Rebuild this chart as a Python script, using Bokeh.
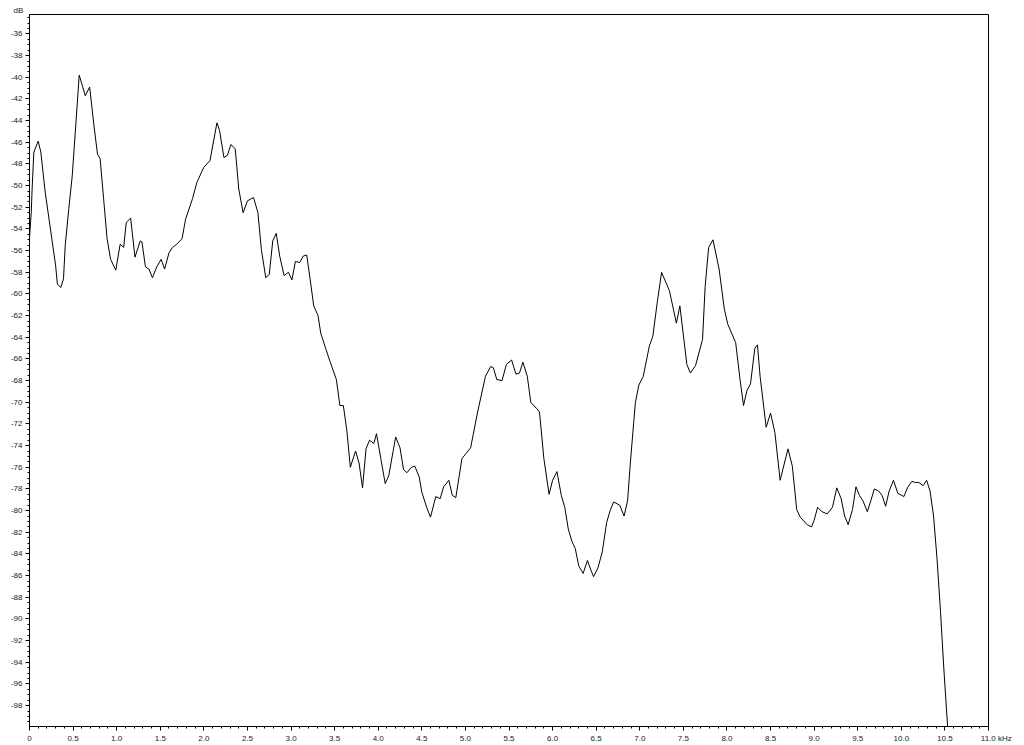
from bokeh.plotting import figure
from bokeh.models import FixedTicker, CustomJSTickFormatter, Range1d
from bokeh.embed import file_html
from bokeh.resources import INLINE

freq_khz = [
    0.00, 0.02, 0.03, 0.05, 0.10, 0.13, 0.18, 0.24, 0.30, 0.32, 0.36, 0.39, 0.41, 0.45, 0.49,
    0.53, 0.57, 0.60, 0.64, 0.69, 0.74, 0.78, 0.81, 0.85, 0.89, 0.93, 0.99, 1.04, 1.08, 1.11,
    1.16, 1.21, 1.27, 1.29, 1.33, 1.37, 1.41, 1.46, 1.51, 1.55, 1.60, 1.64, 1.69, 1.75, 1.79,
    1.87, 1.92, 2.00, 2.07, 2.15, 2.18, 2.23, 2.27, 2.31, 2.36, 2.40, 2.45, 2.50, 2.57, 2.62,
    2.66, 2.71, 2.75, 2.79, 2.83, 2.87, 2.92, 2.97, 3.01, 3.05, 3.10, 3.14, 3.18, 3.22, 3.26,
    3.31, 3.34, 3.40, 3.45, 3.52, 3.56, 3.60, 3.64, 3.68, 3.74, 3.78, 3.82, 3.86, 3.90, 3.95,
    3.98, 4.03, 4.08, 4.12, 4.20, 4.25, 4.29, 4.33, 4.38, 4.42, 4.47, 4.50, 4.56, 4.60, 4.66,
    4.71, 4.75, 4.81, 4.85, 4.89, 4.96, 5.06, 5.14, 5.23, 5.29, 5.32, 5.36, 5.42, 5.47, 5.53,
    5.58, 5.62, 5.66, 5.71, 5.75, 5.82, 5.85, 5.90, 5.96, 6.00, 6.05, 6.10, 6.14, 6.18, 6.22,
    6.26, 6.30, 6.35, 6.40, 6.44, 6.47, 6.52, 6.57, 6.62, 6.66, 6.70, 6.77, 6.82, 6.86, 6.89,
    6.93, 6.95, 6.99, 7.04, 7.11, 7.15, 7.20, 7.25, 7.34, 7.42, 7.46, 7.54, 7.58, 7.64, 7.72,
    7.75, 7.79, 7.84, 7.91, 7.97, 8.01, 8.10, 8.15, 8.19, 8.23, 8.27, 8.32, 8.35, 8.38, 8.45,
    8.50, 8.55, 8.61, 8.70, 8.75, 8.80, 8.84, 8.92, 8.97, 9.00, 9.04, 9.09, 9.15, 9.21, 9.26,
    9.31, 9.35, 9.39, 9.44, 9.48, 9.52, 9.56, 9.61, 9.65, 9.69, 9.74, 9.78, 9.82, 9.86, 9.91,
    9.96, 10.03, 10.07, 10.12, 10.16, 10.20, 10.25, 10.29, 10.33, 10.37, 10.41, 10.45, 10.49,
    10.53, 10.55,
]

level_db = [
    -54.8, -52.5, -50.3, -46.9, -45.9, -46.9, -50.6, -54.0, -57.4, -59.1, -59.4, -58.6, -55.5, -52.2, -49.1,
    -44.5, -39.8, -40.6, -41.7, -40.9, -44.5, -47.1, -47.5, -51.2, -54.9, -56.8, -57.8, -55.4, -55.7, -53.4,
    -53.0, -56.6, -55.1, -55.2, -57.5, -57.7, -58.5, -57.5, -56.8, -57.7, -56.2, -55.7, -55.4, -54.9, -53.1,
    -51.2, -49.7, -48.3, -47.7, -44.2, -44.9, -47.4, -47.2, -46.2, -46.6, -50.3, -52.5, -51.4, -51.1, -52.5,
    -55.9, -58.5, -58.2, -55.1, -54.4, -56.5, -58.3, -58.0, -58.7, -57.0, -57.1, -56.5, -56.4, -58.7, -61.1,
    -62.0, -63.6, -65.1, -66.3, -67.9, -70.3, -70.3, -72.6, -76.0, -74.5, -75.6, -77.9, -74.3, -73.5, -73.8,
    -72.9, -75.2, -77.5, -76.8, -73.2, -74.2, -76.2, -76.5, -76.0, -75.9, -76.9, -78.3, -79.8, -80.6, -78.7,
    -78.9, -77.8, -77.2, -78.6, -78.8, -75.2, -74.2, -70.9, -67.6, -66.7, -66.8, -67.9, -68.0, -66.5, -66.1,
    -67.4, -67.3, -66.3, -67.6, -70.0, -70.6, -70.9, -75.2, -78.5, -77.2, -76.4, -78.6, -79.7, -81.7, -82.8,
    -83.5, -85.1, -85.8, -84.6, -85.5, -86.1, -85.3, -83.8, -81.1, -80.0, -79.2, -79.5, -80.5, -79.1, -75.8,
    -71.9, -70.0, -68.4, -67.6, -64.8, -63.9, -60.8, -58.0, -59.7, -62.7, -61.1, -66.5, -67.3, -66.6, -64.2,
    -59.3, -55.7, -55.0, -57.7, -61.4, -62.8, -64.5, -67.9, -70.3, -68.9, -68.3, -65.0, -64.7, -67.6, -72.3,
    -71.0, -72.8, -77.2, -74.3, -75.9, -79.9, -80.6, -81.3, -81.5, -80.9, -79.7, -80.1, -80.3, -79.7, -77.9,
    -78.9, -80.5, -81.3, -79.9, -77.8, -78.6, -79.1, -80.1, -79.1, -78.0, -78.2, -78.6, -79.6, -78.2, -77.2,
    -78.4, -78.7, -77.9, -77.3, -77.4, -77.4, -77.7, -77.2, -78.2, -80.5, -84.5, -89.4, -94.9,
    -99.8, -102.0,
]

x_ticks = [i * 0.5 for i in range(23)]
x_minor = [round(i * 0.1, 1) for i in range(111)]
y_ticks = list(range(-98, -35, 2))
y_minor = [-100 + i * 0.5 for i in range(132)]
y_unit = "dB"
x_unit = "kHz"

font = "Liberation Sans"

p = figure(
    width=1012, height=745,
    output_backend="svg", toolbar_location=None,
    x_range=Range1d(0, 11.0), y_range=Range1d(-99.93, -34.2),
    min_border_left=29, min_border_right=24, min_border_top=14, min_border_bottom=17,
    title=y_unit,
)
p.background_fill_color = "white"
p.border_fill_color = "white"
p.outline_line_color = "black"
p.outline_line_width = 1
p.grid.visible = False

p.title.align = "left"
p.title.offset = -16
p.title.standoff = 0
p.title.text_font = font
p.title.text_font_size = "8px"
p.title.text_font_style = "normal"
p.title.text_color = "#222222"

p.line(freq_khz, level_db, line_color="black", line_width=1)

for ax in (p.xaxis[0], p.yaxis[0]):
    ax.axis_line_color = "black"
    ax.major_tick_line_color = "black"
    ax.minor_tick_line_color = "black"
    ax.major_tick_in = 0
    ax.minor_tick_in = 0
    ax.major_tick_out = 4
    ax.minor_tick_out = 2
    ax.major_label_text_font = font
    ax.major_label_text_font_size = "8px"
    ax.major_label_text_color = "#222222"
    ax.major_label_standoff = 3

p.xaxis[0].ticker = FixedTicker(ticks=x_ticks, minor_ticks=x_minor)
p.xaxis[0].formatter = CustomJSTickFormatter(
    args=dict(unit=x_unit),
    code="""
    if (tick == 0) return '0';
    if (Math.abs(tick - 11) < 1e-9) return '\\u00a0\\u00a0\\u00a0\\u00a0\\u00a0\\u00a0\\u00a0' + tick.toFixed(1) + '\\u00a0' + unit;
    return tick.toFixed(1);
    """,
)
p.yaxis[0].ticker = FixedTicker(ticks=y_ticks, minor_ticks=y_minor)
p.yaxis[0].formatter = CustomJSTickFormatter(code="return tick.toFixed(0);")

open("out.html", "w").write(file_html(p, INLINE))
